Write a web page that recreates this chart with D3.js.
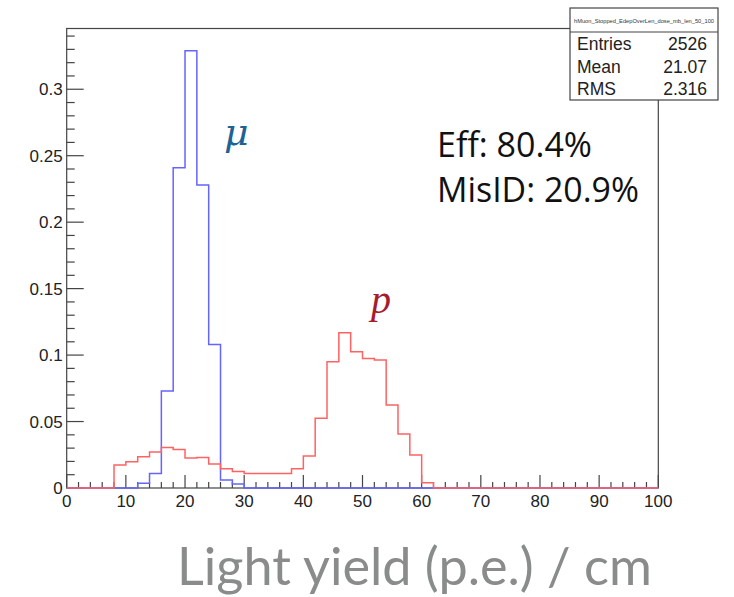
<!DOCTYPE html>
<html>
<head>
<meta charset="utf-8">
<script src="https://cdn.jsdelivr.net/npm/d3@7"></script>
<style>
  body { margin: 0; background: #fff; }
  svg { display: block; }
  .tick-label { font-family: "Liberation Sans", Arial, sans-serif; font-size: 17px; fill: #222; }
  .stat { font-family: "Liberation Sans", Arial, sans-serif; font-size: 17.5px; fill: #222; }
</style>
</head>
<body>
<div id="chart"></div>
<script>
// bin lower edges, width 2, 0..100
var binWidth = 2
var binLow = d3.range(0, 100, binWidth)

// muon histogram (blue), normalised
var muon = [
  0, 0, 0, 0, 0, 0, 0.0035, 0.011, 0.073, 0.241,
  0.329, 0.228, 0.108, 0.006, 0.003, 0, 0, 0, 0, 0,
  0, 0, 0, 0, 0, 0, 0, 0, 0, 0,
  0, 0, 0, 0, 0, 0, 0, 0, 0, 0,
  0, 0, 0, 0, 0, 0, 0, 0, 0, 0
]

// proton histogram (red), normalised
var proton = [
  0, 0, 0, 0, 0.0173, 0.0197, 0.0235, 0.027, 0.0305, 0.029,
  0.0225, 0.023, 0.018, 0.0145, 0.0125, 0.011, 0.011, 0.011, 0.011, 0.0145,
  0.024, 0.0524, 0.095, 0.1168, 0.1025, 0.0975, 0.0963, 0.0624, 0.0406, 0.0248,
  0.004, 0, 0, 0, 0, 0, 0, 0, 0, 0,
  0, 0, 0, 0, 0, 0, 0, 0, 0, 0
]

var xTicks = [0, 10, 20, 30, 40, 50, 60, 70, 80, 90, 100]
var yTicks = [0, 0.05, 0.1, 0.15, 0.2, 0.25, 0.3]
var yTickLabels = ["0", "0.05", "0.1", "0.15", "0.2", "0.25", "0.3"]

var statLabels = ["Entries", "Mean", "RMS"]
var statValues = ["2526", "21.07", "2.316"]
var statTitle = "hMuon_Stopped_EdepOverLen_dose_mb_len_50_100"
var effLines = ["Eff: 80.4%", "MisID: 20.9%"]

var width = 734, height = 597
var frame = {left: 66.7, right: 658.3, top: 28.5, bottom: 488}

var svg = d3.select("#chart").append("svg")
    .attr("width", width)
    .attr("height", height)

var x = d3.scaleLinear().domain([0, 100]).range([frame.left, frame.right])
var y = d3.scaleLinear().domain([0, 0.3457]).range([frame.bottom, frame.top])

// scale a text's font so it spans the width seen in the picture
function fitWidth(sel, target) {
  var fs = +sel.attr("font-size")
  var w = sel.node().getComputedTextLength()
  sel.attr("font-size", fs * target / w)
}

// frame
svg.append("rect")
    .attr("x", frame.left).attr("y", frame.top)
    .attr("width", frame.right - frame.left)
    .attr("height", frame.bottom - frame.top)
    .attr("fill", "none")
    .attr("stroke", "#444")
    .attr("stroke-width", 1.2)

// y axis ticks (major 0.05, minor 0.01)
var yMinor = d3.range(0, 0.3457, 0.01)
svg.append("g").selectAll("line").data(yMinor).join("line")
    .attr("x1", frame.left).attr("x2", (d, i) => frame.left + (i % 5 === 0 ? 17 : 8))
    .attr("y1", d => y(d)).attr("y2", d => y(d))
    .attr("stroke", "#444").attr("stroke-width", 1.2)

svg.append("g").selectAll("text").data(yTicks).join("text")
    .attr("class", "tick-label")
    .attr("x", frame.left - 4)
    .attr("y", d => y(d) + 6)
    .attr("text-anchor", "end")
    .text((d, i) => yTickLabels[i])

// x axis ticks (major 10, minor 2)
var xMinor = d3.range(0, 100.1, 2)
svg.append("g").selectAll("line").data(xMinor).join("line")
    .attr("x1", d => x(d)).attr("x2", d => x(d))
    .attr("y1", frame.bottom).attr("y2", (d, i) => frame.bottom - (i % 5 === 0 ? 13 : 6))
    .attr("stroke", "#444").attr("stroke-width", 1.2)

svg.append("g").selectAll("text").data(xTicks).join("text")
    .attr("class", "tick-label")
    .attr("x", d => x(d))
    .attr("y", 507)
    .attr("text-anchor", "middle")
    .text(d => d)

// histogram outlines
function histPoints(values) {
  var pts = [[0, 0]]
  values.forEach((v, i) => {
    pts.push([binLow[i], v])
    pts.push([binLow[i] + binWidth, v])
  })
  pts.push([100, 0])
  return pts
}
var line = d3.line().x(d => x(d[0])).y(d => y(d[1]))

svg.append("path")
    .attr("d", line(histPoints(muon)))
    .attr("fill", "none")
    .attr("stroke", "#6464ff")
    .attr("stroke-width", 1.5)

svg.append("path")
    .attr("d", line(histPoints(proton)))
    .attr("fill", "none")
    .attr("stroke", "#ff6262")
    .attr("stroke-width", 1.5)

// stats box
var box = {x: 570, y: 8, w: 148, h: 92, head: 24}
svg.append("rect")
    .attr("x", box.x).attr("y", box.y).attr("width", box.w).attr("height", box.h)
    .attr("fill", "#fff").attr("stroke", "#444").attr("stroke-width", 1.2)
svg.append("line")
    .attr("x1", box.x).attr("x2", box.x + box.w)
    .attr("y1", box.y + box.head).attr("y2", box.y + box.head)
    .attr("stroke", "#444").attr("stroke-width", 1.2)
svg.append("text")
    .attr("x", box.x + 4).attr("y", box.y + 15)
    .attr("font-family", "Liberation Sans, Arial, sans-serif")
    .attr("font-size", 5.5).attr("fill", "#333")
    .attr("textLength", box.w - 8).attr("lengthAdjust", "spacingAndGlyphs")
    .text(statTitle)

statLabels.forEach((lab, i) => {
  var by = 50 + i * 22.5
  svg.append("text").attr("class", "stat")
      .attr("x", box.x + 7).attr("y", by).text(lab)
  svg.append("text").attr("class", "stat")
      .attr("x", box.x + box.w - 11).attr("y", by)
      .attr("text-anchor", "end").text(statValues[i])
})

// annotations
var effWidths = [155, 202]
effLines.forEach((t, i) => {
  var txt = svg.append("text")
      .attr("x", 437).attr("y", 157 + i * 45)
      .attr("font-family", "'Open Sans', Lato, sans-serif")
      .attr("font-size", 30)
      .attr("fill", "#111")
      .text(t)
  fitWidth(txt, effWidths[i])
})

svg.append("text")
    .attr("x", 224).attr("y", 145)
    .attr("font-family", "'DejaVu Serif', serif")
    .attr("font-style", "italic")
    .attr("font-size", 38)
    .attr("fill", "#1d6394")
    .text("\u03bc")

svg.append("text")
    .attr("x", 371).attr("y", 313)
    .attr("font-family", "'Liberation Serif', serif")
    .attr("font-style", "italic")
    .attr("font-size", 40)
    .attr("fill", "#a61b2e")
    .text("p")

// x axis title
var xTitle = svg.append("text")
    .attr("x", 177).attr("y", 585)
    .attr("font-family", "Lato, sans-serif")
    .attr("font-size", 51)
    .attr("fill", "#8a8c8c")
    .text("Light yield (p.e.) / cm")
fitWidth(xTitle, 475)
</script>
</body>
</html>
